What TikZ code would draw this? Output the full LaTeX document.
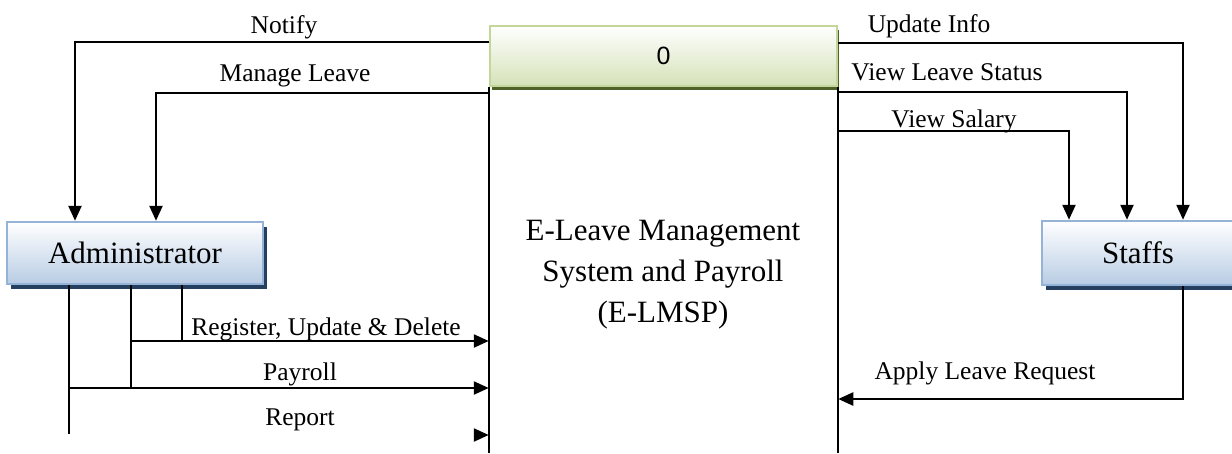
\documentclass[tikz,border=0pt]{standalone}
\usepackage{fontspec}
\setmainfont{Liberation Serif}
\newfontfamily\digitfont{Liberation Sans}
\usetikzlibrary{arrows.meta,shadows}
\definecolor{procEdge}{HTML}{C4D79B}
\definecolor{procFill}{HTML}{D5E2B8}
\definecolor{procShade}{HTML}{4F6228}
\definecolor{entEdge}{HTML}{95B3D7}
\definecolor{entFill}{HTML}{B8CCE4}
\definecolor{entShade}{HTML}{243F60}
\begin{document}
\begin{tikzpicture}[x=1pt,y=-1pt,
  flow/.style={line width=2.4pt,-{Triangle[length=15pt,width=13pt]}},
  wire/.style={line width=2.4pt},
  lbl/.style={font=\fontsize{25.5}{30}\selectfont,inner sep=0pt,anchor=base},
  entity/.style={draw=entEdge,line width=2.5pt,top color=white,bottom color=entFill,
    font=\fontsize{31}{36}\selectfont,text=black,
    drop shadow={shadow xshift=4pt,shadow yshift=-5pt,fill=entShade,opacity=1}},
  procHead/.style={draw=procEdge,line width=2.5pt,top color=white,bottom color=procFill,
    font=\digitfont\fontsize{25}{30}\selectfont,text=black,
    drop shadow={shadow xshift=2pt,shadow yshift=-4pt,fill=procShade,opacity=1}}]
\clip (0,0) rectangle (1232,453);

% process box: header and open body
\node[procHead,minimum width=347pt,minimum height=60pt] (hdr) at (663.5,56) {0};
\coordinate (bodyL) at (hdr.south west |- 0,453);
\coordinate (bodyR) at (hdr.south east |- 0,453);
\draw[wire] (hdr.south west) -- (bodyL);
\draw[wire] (hdr.south east) -- (bodyR);
\node[font=\fontsize{31}{41}\selectfont,align=center,inner sep=0pt] (sys) at (663,275)
  {E-Leave Management\\System and Payroll\\(E-LMSP)};

% external entities
\node[entity,minimum width=256pt,minimum height=62pt] (adm) at (135,253) {Administrator};
\node[entity,minimum width=192pt,minimum height=64pt] (stf) at (1138,253) {Staffs};

% flows to the administrator
\draw[flow] (hdr.west |- 0,42) -| (adm.north -| 75,0);
\node[lbl] (lNotify) at (284,33) {Notify};
\draw[flow] (hdr.south west |- 0,93) -| (adm.north -| 156,0);
\node[lbl] (lManage) at (295,81) {Manage Leave};

% flows to the staff
\draw[flow] (hdr.east |- 0,43) -| (stf.north -| 1183,0);
\node[lbl] (lUpdate) at (929,32) {Update Info};
\draw[flow] (hdr.south east |- 0,92) -| (stf.north -| 1127,0);
\node[lbl] (lStatus) at (947,80) {View Leave Status};
\draw[flow] (hdr.south east |- 0,131) -| (stf.north -| 1069,0);
\node[lbl] (lSalary) at (954,127) {View Salary};

% flows from the administrator
\coordinate (a1) at (69,434);
\coordinate (a2) at (131,388);
\coordinate (a3) at (182,341);
\draw[wire] (adm.south -| a1) -- (a1);
\draw[wire] (adm.south -| a2) -- (a2);
\draw[wire] (adm.south -| a3) -- (a3);
\draw[flow] (a2 |- a3) -- (hdr.south west |- a3);
\node[lbl] (lReg) at (326,335) {Register, Update \& Delete};
\draw[flow] (a1 |- a2) -- (hdr.south west |- a2);
\node[lbl] (lPay) at (300,380) {Payroll};
\coordinate (rep) at (475,435);
\draw[flow] (rep) -- (hdr.south west |- rep);
\node[lbl] (lRep) at (300,425) {Report};

% flow from the staff
\draw[flow] (stf.south -| 1183,0) |- (hdr.south east |- 0,399);
\node[lbl] (lApply) at (985,379) {Apply Leave Request};
\end{tikzpicture}
\end{document}
